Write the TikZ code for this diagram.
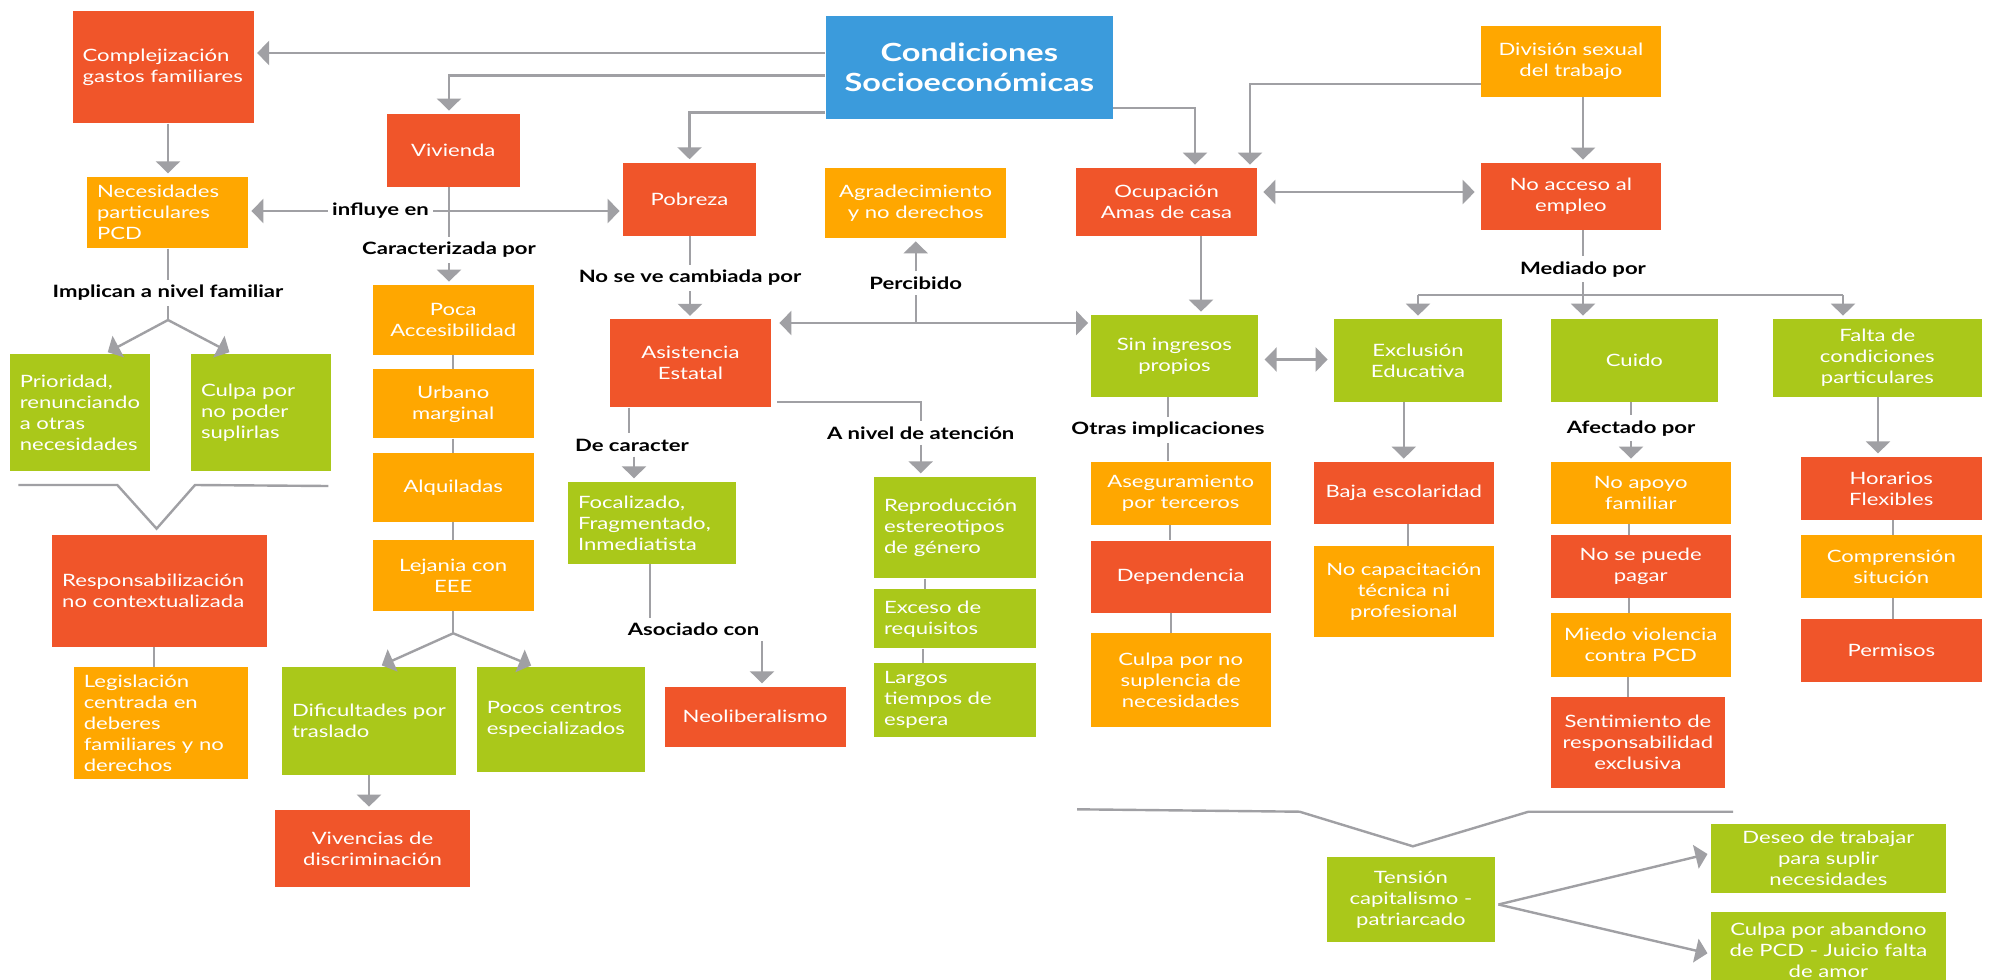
\documentclass[tikz,border=0pt]{standalone}
\usepackage{fontspec}
\setmainfont{Lato}[FakeStretch=1.3]
\usetikzlibrary{arrows.meta,calc}
\definecolor{cRed}{HTML}{F0552A}
\definecolor{cAmb}{HTML}{FFA700}
\definecolor{cGrn}{HTML}{AAC81A}
\definecolor{cBlu}{HTML}{3B9BDC}
\definecolor{cLine}{HTML}{A0A0A4}
\tikzset{
  box/.style={inner sep=0pt, text=white, align=center, font=\fontsize{8.5}{10.5}\selectfont},
  sz/.style 2 args={minimum width=#1*0.5pt, minimum height=#2*0.5pt},
  rbox/.style={box, fill=cRed},
  abox/.style={box, fill=cAmb},
  gbox/.style={box, fill=cGrn},
  lft/.style={align=left, text width=#1, inner xsep=5pt, execute at begin node={\hyphenpenalty=10000}},
  lab/.style={fill=white, inner xsep=2pt, inner ysep=2.5pt, text=black, font=\bfseries\fontsize{8.5}{10}\selectfont},
  ln/.style={draw=cLine, line width=1.2pt},
  arr/.style={ln, -{Triangle[width=12pt,length=6pt]}, shorten >=1.5pt},
  darr/.style={ln, {Triangle[width=12pt,length=6pt]}-{Triangle[width=12pt,length=6pt]}, shorten >=3pt, shorten <=3pt},
}
\begin{document}
\begin{tikzpicture}[x=0.5pt,y=-0.5pt]
\useasboundingbox (0,0) rectangle (1989,979);
\fill[white] (0,0) rectangle (1989,979);

% ---------- boxes ----------
\node[box, fill=cBlu, sz={287.5}{103}, font=\bfseries\fontsize{12.5}{15}\selectfont] (cond) at (969.3,67.5) {Condiciones\\Socioeconómicas};
\node[rbox, sz={181}{112.6}, lft=80.5pt] (comp) at (163.2,67) {Complejización\\gastos familiares};
\node[abox, sz={179.7}{70.7}] (div) at (1570.9,61.4) {División sexual\\del trabajo};
\node[rbox, sz={133.4}{72.7}] (viv) at (453.3,150.3) {Vivienda};
\node[rbox, sz={133}{73.3}] (pob) at (689.5,199.3) {Pobreza};
\node[abox, sz={180.6}{70}] (agr) at (915.7,203) {Agradecimiento\\y no derechos};
\node[rbox, sz={181}{68}] (ocu) at (1166.5,202) {Ocupación\\Amas de casa};
\node[rbox, sz={179.7}{67}] (noacc) at (1570.9,196.5) {No acceso al\\empleo};
\node[abox, sz={161}{71.6}, lft=70.5pt] (nec) at (167.5,212.5) {Necesidades\\particulares\\PCD};
\node[abox, sz={160.7}{70}] (poca) at (453.2,320) {Poca\\Accesibilidad};
\node[abox, sz={160.7}{69}] (urb) at (453.2,403.8) {Urbano\\marginal};
\node[abox, sz={160.7}{68.4}] (alq) at (453.2,487.5) {Alquiladas};
\node[abox, sz={160.7}{70.7}] (lej) at (453.2,575.4) {Lejania con\\EEE};
\node[rbox, sz={161.2}{88}] (asis) at (690.4,363.3) {Asistencia\\Estatal};
\node[gbox, sz={167.8}{81.7}] (sin) at (1174.4,355.9) {Sin ingresos\\propios};
\node[gbox, sz={168}{82.7}] (exc) at (1418,360.4) {Exclusión\\Educativa};
\node[gbox, sz={167.3}{82.7}] (cui) at (1634.4,360.4) {Cuido};
\node[gbox, sz={208.5}{77.7}] (fal) at (1877.3,357.9) {Falta de\\condiciones\\particulares};
\node[gbox, sz={140.6}{116.7}, lft=60.3pt] (pri) at (80.1,412.4) {Prioridad,\\renunciando\\a otras\\necesidades};
\node[gbox, sz={140.2}{116.7}, lft=60.1pt] (cul) at (261.1,412.4) {Culpa por\\no poder\\suplirlas};
\node[gbox, sz={167.6}{82.3}, lft=73.8pt] (foc) at (651.8,522.9) {Focalizado,\\Fragmentado,\\Inmediatista};
\node[gbox, sz={161.5}{101.6}, lft=70.7pt] (rep) at (954.8,527.5) {Reproducción\\estereotipos\\de género};
\node[gbox, sz={161.5}{59.3}, lft=70.7pt] (exce) at (954.8,618.7) {Exceso de\\requisitos};
\node[gbox, sz={161.5}{73.7}, lft=70.7pt] (lar) at (954.8,699.9) {Largos\\tiempos de\\espera};
\node[abox, sz={180.3}{63.3}] (ase) at (1180.7,493.4) {Aseguramiento\\por terceros};
\node[rbox, sz={180.3}{72}] (dep) at (1180.7,576.7) {Dependencia};
\node[abox, sz={180.3}{93.7}] (cnos) at (1180.7,679.9) {Culpa por no\\suplencia de\\necesidades};
\node[rbox, sz={180.4}{62}] (baja) at (1403.8,493) {Baja escolaridad};
\node[abox, sz={180.4}{90.7}] (nocap) at (1403.8,591.4) {No capacitación\\técnica ni\\profesional};
\node[abox, sz={180}{62}] (noap) at (1640.7,493) {No apoyo\\familiar};
\node[rbox, sz={180}{62.7}] (nopag) at (1640.7,566.4) {No se puede\\pagar};
\node[abox, sz={180}{63.7}] (mie) at (1640.7,644.9) {Miedo violencia\\contra PCD};
\node[rbox, sz={174.3}{91}] (sen) at (1637.9,742.5) {Sentimiento de\\responsabilidad\\exclusiva};
\node[rbox, sz={180.5}{63.3}] (hor) at (1891.3,488.4) {Horarios\\Flexibles};
\node[abox, sz={180.5}{62.7}] (com) at (1891.3,566.4) {Comprensión\\situción};
\node[rbox, sz={180.5}{62.7}] (per) at (1891.3,650.4) {Permisos};
\node[rbox, sz={214.8}{111.7}, lft=97.4pt] (resp) at (159.6,590.9) {Responsabilización\\no contextualizada};
\node[abox, sz={174.1}{112}, lft=77pt] (leg) at (160.8,723.3) {Legislación\\centrada en\\deberes\\familiares y no\\derechos};
\node[gbox, sz={174}{108}, lft=77pt] (dif) at (369,721) {Dificultades por\\traslado};
\node[gbox, sz={168.2}{104.7}, lft=74.1pt] (poc) at (560.9,719.4) {Pocos centros\\especializados};
\node[rbox, sz={180.8}{60}] (neo) at (755.2,716.7) {Neoliberalismo};
\node[rbox, sz={194.2}{77.3}] (vdis) at (372.5,848.7) {Vivencias de\\discriminación};
\node[gbox, sz={168.3}{84.4}] (ten) at (1410.9,899.5) {Tensión\\capitalismo -\\patriarcado};
\node[gbox, sz={235.2}{68.7}] (des) at (1828.4,858.4) {Deseo de trabajar\\para suplir\\necesidades};
\node[gbox, sz={235.2}{77}] (cab) at (1828.4,950.2) {Culpa por abandono\\de PCD - Juicio falta\\de amor};

% ---------- connector labels ----------
\node[lab] (linf) at (380.5,211) {influye en};
\node[lab] (lcar) at (449,250) {Caracterizada por};
\node[lab] (limp) at (168,293) {Implican a nivel familiar};
\node[lab] (lnsv) at (690,278) {No se ve cambiada por};
\node[lab] (lper) at (915.7,283) {Percibido};
\node[lab] (ldec) at (632,445) {De caracter};
\node[lab] (lniv) at (920.7,433) {A nivel de atención};
\node[lab] (laso) at (693.5,629.3) {Asociado con};
\node[lab] (lotr) at (1168,430) {Otras implicaciones};
\node[lab] (lmed) at (1583,269.3) {Mediado por};
\node[lab] (lafe) at (1631,428.3) {Afectado por};

% ---------- connectors ----------
% from Condiciones Socioeconómicas
\draw[arr] (cond.west |- 0,53) -- (comp.east |- 0,53);
\draw[arr] (cond.west |- 0,75.5) -| (viv.north -| lcar);
\draw[arr] (cond.west |- 0,112.5) -| (pob.north);
\draw[arr] (cond.east |- 0,108) -| (ocu.north -| 1195,0);
\draw[arr] (div.west |- 0,84) -| (ocu.north -| 1250,0);
\draw[arr] (div.south -| lmed) -- (noacc.north -| lmed);
\draw[darr] (ocu.east |- 0,192) -- (noacc.west |- 0,192);

% Vivienda
\draw[arr] (linf.west) -- (nec.east |- linf);
\draw[arr] (linf.east) -- (pob.west |- linf);
\draw[ln] (viv.south -| lcar) -- (lcar.north);
\draw[arr] (lcar.south) -- (poca.north -| lcar);
\draw[ln] (poca) -- (urb);
\draw[ln] (urb) -- (alq);
\draw[ln] (alq) -- (lej);
\coordinate (flej) at (lej.south |- 0,633.3);
\draw[ln] (lej.south) -- (flej);
\draw[arr] (flej) -- ($(dif.north)+(10,0)$);
\draw[arr] (flej) -- ($(poc.north)+(-27,0)$);
\draw[arr] (dif.south) -- (dif.south |- vdis.north);

% Complejización and Necesidades
\draw[arr] (comp.south -| limp) -- (nec.north -| limp);
\draw[ln] (nec.south -| limp) -- (limp.north);
\coordinate (fimp) at (limp.south |- 0,320);
\draw[ln] (limp.south) -- (fimp);
\draw[arr] (fimp) -- ($(pri.north)+(25,0)$);
\draw[arr] (fimp) -- ($(cul.north)+(-29,0)$);
\coordinate (va) at ($(resp.north)+(-3,-6)$);
\draw[ln] (18.3,485) -- (117.3,485) -- (va) -- (195,485) -- (328.3,486);
\draw[ln] (resp.south -| 154,0) -- (leg.north -| 154,0);

% Pobreza and Asistencia Estatal
\draw[ln] (pob.south -| lnsv) -- (lnsv.north);
\draw[arr] (lnsv.south) -- (asis.north -| lnsv);
\draw[darr, shorten <=4pt, shorten >=1pt] (asis.east |- 0,323) -- (sin.west |- 0,323);
\draw[ln] (lper.south |- 0,323) -- (lper.south);
\draw[arr] (lper.north) -- (agr.south -| lper);
\draw[ln] (asis.south -| 629,0) -- (ldec.north -| 629,0);
\draw[arr] (ldec.south -| 634,0) -- (foc.north -| 634,0);
\draw[ln] ($(asis.south east)+(6,-6)$) -| (lniv.north);
\draw[arr] (lniv.south) -- (rep.north -| lniv);
\draw[ln] (rep.south -| 925,0) -- (exce.north -| 925,0);
\draw[ln] (exce.south -| 923,0) -- (lar.north -| 923,0);
\draw[ln] (foc.south -| 650,0) -- (laso.north -| 650,0);
\draw[arr] (laso.south -| 762,0) -- (neo.north -| 762,0);

% Ocupación and Sin ingresos
\draw[arr] (ocu.south -| 1201,0) -- (sin.north -| 1201,0);
\draw[darr] (sin.east |- 0,359.5) -- (exc.west |- 0,359.5);
\draw[ln] (sin.south -| lotr) -- (lotr.north);
\draw[ln] (lotr.south) -- (ase.north -| lotr);
\draw[ln] (ase.south -| 1170,0) -- (dep.north -| 1170,0);
\draw[ln] (dep.south -| 1171,0) -- (cnos.north -| 1171,0);

% No acceso al empleo
\draw[ln] (noacc.south -| lmed) -- (lmed.north);
\coordinate (fmed) at (lmed.south |- 0,295);
\draw[ln] (lmed.south) -- (fmed);
\draw[ln] (exc.north |- fmed) -- (fmed -| 1843,0);
\draw[arr] (exc.north |- fmed) -- (exc.north);
\draw[arr] (fmed) -- (fmed |- cui.north);
\draw[arr] (fmed -| 1843,0) -- (fal.north -| 1843,0);
\draw[arr] (exc.south -| baja.north) -- (baja.north);
\draw[ln] (baja.south -| 1408,0) -- (nocap.north -| 1408,0);
\draw[ln] (cui.south -| lafe) -- (lafe.north);
\draw[arr] (lafe.south) -- (noap.north -| lafe);
\draw[ln] (noap.south -| 1629,0) -- (nopag.north -| 1629,0);
\draw[ln] (nopag.south -| 1629,0) -- (mie.north -| 1629,0);
\draw[ln] (mie.south -| 1628,0) -- (sen.north -| 1628,0);
\draw[arr] (fal.south -| 1878,0) -- (hor.north -| 1878,0);
\draw[ln] (hor.south -| 1893,0) -- (com.north -| 1893,0);
\draw[ln] (com.south -| 1893,0) -- (per.north -| 1893,0);

% Tensión capitalismo - patriarcado
\coordinate (vb) at ($(ten.north)+(2,-10.6)$);
\draw[ln] (1077,809.3) -- (1299.6,811.7) -- (vb) -- (1528.5,811.7) -- (1733,811.7);
\coordinate (tout) at ($(ten.east)+(3,5)$);
\draw[arr] (tout) -- (des.west |- 0,853.3);
\draw[arr] (tout) -- (cab.west |- 0,954);
\end{tikzpicture}
\end{document}
